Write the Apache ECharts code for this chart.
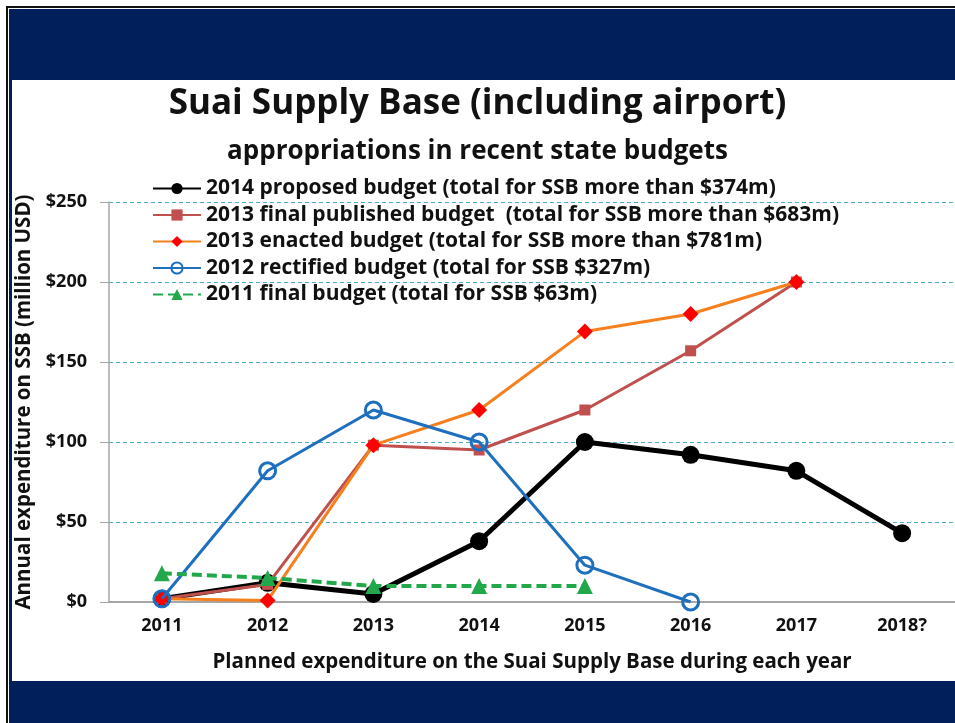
<!DOCTYPE html>
<html>
<head>
<meta charset="utf-8">
<script src="https://cdn.jsdelivr.net/npm/echarts@6/dist/echarts.min.js"></script>
<style>
  html, body { margin: 0; padding: 0; background: #fff; }
  #main { width: 955px; height: 723px; }
</style>
</head>
<body>
<div id="main"></div>
<script>
  // planned years on the x axis
  const years = ['2011', '2012', '2013', '2014', '2015', '2016', '2017', '2018?'];

  // annual expenditure on SSB, million USD
  const proposed2014 = [2, 12, 5, 38, 100, 92, 82, 43];
  const finalPublished2013 = [2, 11, 98, 95, 120, 157, 200, null];
  const enacted2013 = [2, 1, 98, 120, 169, 180, 200, null];
  const rectified2012 = [2, 82, 120, 100, 23, 0, null, null];
  const final2011 = [18, 15, 10, 10, 10, null, null, null];

  const seriesNames = [
    '2014 proposed budget (total for SSB more than $374m)',
    '2013 final published budget  (total for SSB more than $683m)',
    '2013 enacted budget (total for SSB more than $781m)',
    '2012 rectified budget (total for SSB $327m)',
    '2011 final budget (total for SSB $63m)'
  ];

  const font = '"Open Sans", sans-serif';
  const navy = '#001f5b';

  const chart = echarts.init(document.getElementById('main'));

  const option = {
    animation: false,
    backgroundColor: '#fff',
    textStyle: { fontFamily: font },
    graphic: [
      // slide frame
      { type: 'rect', shape: { x: 7, y: 7, width: 960, height: 720 }, style: { fill: 'none', stroke: '#111', lineWidth: 2 }, z: -1 },
      { type: 'rect', shape: { x: 9, y: 9, width: 950, height: 71 }, style: { fill: navy } },
      { type: 'rect', shape: { x: 9, y: 9, width: 3, height: 720 }, style: { fill: navy } },
      { type: 'rect', shape: { x: 9, y: 681, width: 950, height: 45 }, style: { fill: navy } },
      {
        type: 'text', left: 'center', top: 87,
        style: { text: 'Suai Supply Base (including airport)', font: 'bold 35px ' + font, fill: '#111' }
      },
      {
        type: 'text', left: 'center', top: 139,
        style: { text: 'appropriations in recent state budgets', font: 'bold 26px ' + font, fill: '#111' }
      }
    ],
    legend: {
      orient: 'vertical',
      left: 147,
      top: 173,
      itemGap: 5.5,
      itemWidth: 48,
      itemHeight: 14,
      textStyle: { fontSize: 21, fontWeight: 'bold', color: '#111', fontFamily: font },
      data: seriesNames
    },
    grid: { left: 109, top: 202, width: 848, height: 400 },
    xAxis: {
      type: 'category',
      data: years,
      name: 'Planned expenditure on the Suai Supply Base during each year',
      nameLocation: 'middle',
      nameGap: 50,
      nameTextStyle: { fontSize: 20.5, fontWeight: 'bold', color: '#111' },
      axisLine: { lineStyle: { color: '#a6a6a6', width: 2 } },
      axisTick: { length: 6, lineStyle: { color: '#a6a6a6', width: 1.5 } },
      axisLabel: { fontSize: 18, fontWeight: 'bold', color: '#111', margin: 15 }
    },
    yAxis: {
      type: 'value',
      min: 0,
      max: 250,
      interval: 50,
      name: 'Annual expenditure on SSB (million USD)',
      nameLocation: 'middle',
      nameGap: 72,
      nameTextStyle: { fontSize: 20.5, fontWeight: 'bold', color: '#111' },
      axisLine: { show: true, lineStyle: { color: '#a6a6a6', width: 1.5 } },
      axisTick: { show: true, length: 9, lineStyle: { color: '#a6a6a6' } },
      axisLabel: { fontSize: 18, fontWeight: 'bold', color: '#111', margin: 22, formatter: v => '$' + v },
      splitLine: { lineStyle: { color: '#4bacc6', type: [4, 3], width: 1 } }
    },
    series: [
      {
        name: seriesNames[0], type: 'line', data: proposed2014,
        symbol: 'circle', symbolSize: 18,
        lineStyle: { color: '#000', width: 5 },
        itemStyle: { color: '#000' },
        z: 2
      },
      {
        name: seriesNames[1], type: 'line', data: finalPublished2013,
        symbol: 'rect', symbolSize: 11,
        lineStyle: { color: '#c0504d', width: 3 },
        itemStyle: { color: '#c0504d' },
        z: 3
      },
      {
        name: seriesNames[2], type: 'line', data: enacted2013,
        symbol: 'diamond', symbolSize: 16,
        lineStyle: { color: '#f7801e', width: 3 },
        itemStyle: { color: '#ff0000' },
        z: 4
      },
      {
        name: seriesNames[3], type: 'line', data: rectified2012,
        symbol: 'circle', symbolSize: 16,
        lineStyle: { color: '#1f6fbf', width: 3 },
        itemStyle: { color: 'rgba(255,255,255,0)', borderColor: '#1f6fbf', borderWidth: 3 },
        z: 5
      },
      {
        name: seriesNames[4], type: 'line', data: final2011,
        symbol: 'triangle', symbolSize: 16,
        lineStyle: { color: '#22a84a', width: 4, type: [10, 5] },
        itemStyle: { color: '#22a84a' },
        z: 6
      }
    ]
  };

  chart.setOption(option);
</script>
</body>
</html>
